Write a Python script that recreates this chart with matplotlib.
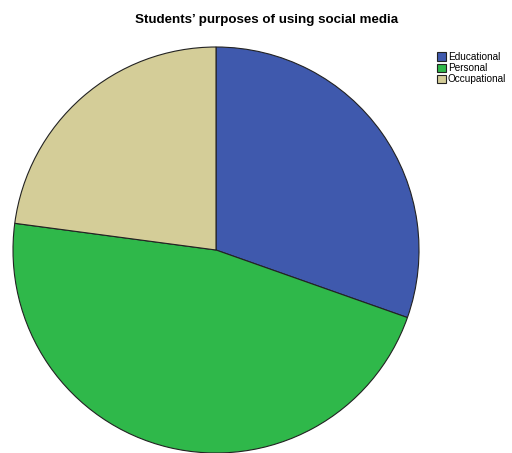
import matplotlib
matplotlib.use("Agg")
import matplotlib.pyplot as plt

categories = ["Educational", "Personal", "Occupational"]
shares = [30.4, 46.7, 22.9]
colors = ["#3F59AD", "#2FB84A", "#D4CD98"]

plt.rcParams["font.family"] = ["Liberation Sans", "DejaVu Sans"]

fig = plt.figure(figsize=(5.12, 4.53), dpi=100)
ax = fig.add_axes([13 / 512, 0.0, 406 / 512, 406 / 453])

wedges, _ = ax.pie(shares, colors=colors, startangle=90, counterclock=False,
                   radius=1.0, wedgeprops=dict(edgecolor="#222222", linewidth=0.8))
ax.set_xlim(-1, 1)
ax.set_ylim(-1, 1)
ax.set_aspect("auto")
ax.axis("off")

fig.text(267 / 512, 1 - 20 / 453, "Students\u2019 purposes of using social media",
         ha="center", va="center", fontsize=9.6, fontweight="bold")

fig.legend(wedges, categories, loc="upper left", bbox_to_anchor=(430 / 512, 1 - 45 / 453),
           frameon=False, fontsize=7.2, handlelength=0.9, handleheight=0.9,
           handletextpad=0.2, labelspacing=0.12, borderpad=0.2)

fig.savefig("out.png", dpi=100)
